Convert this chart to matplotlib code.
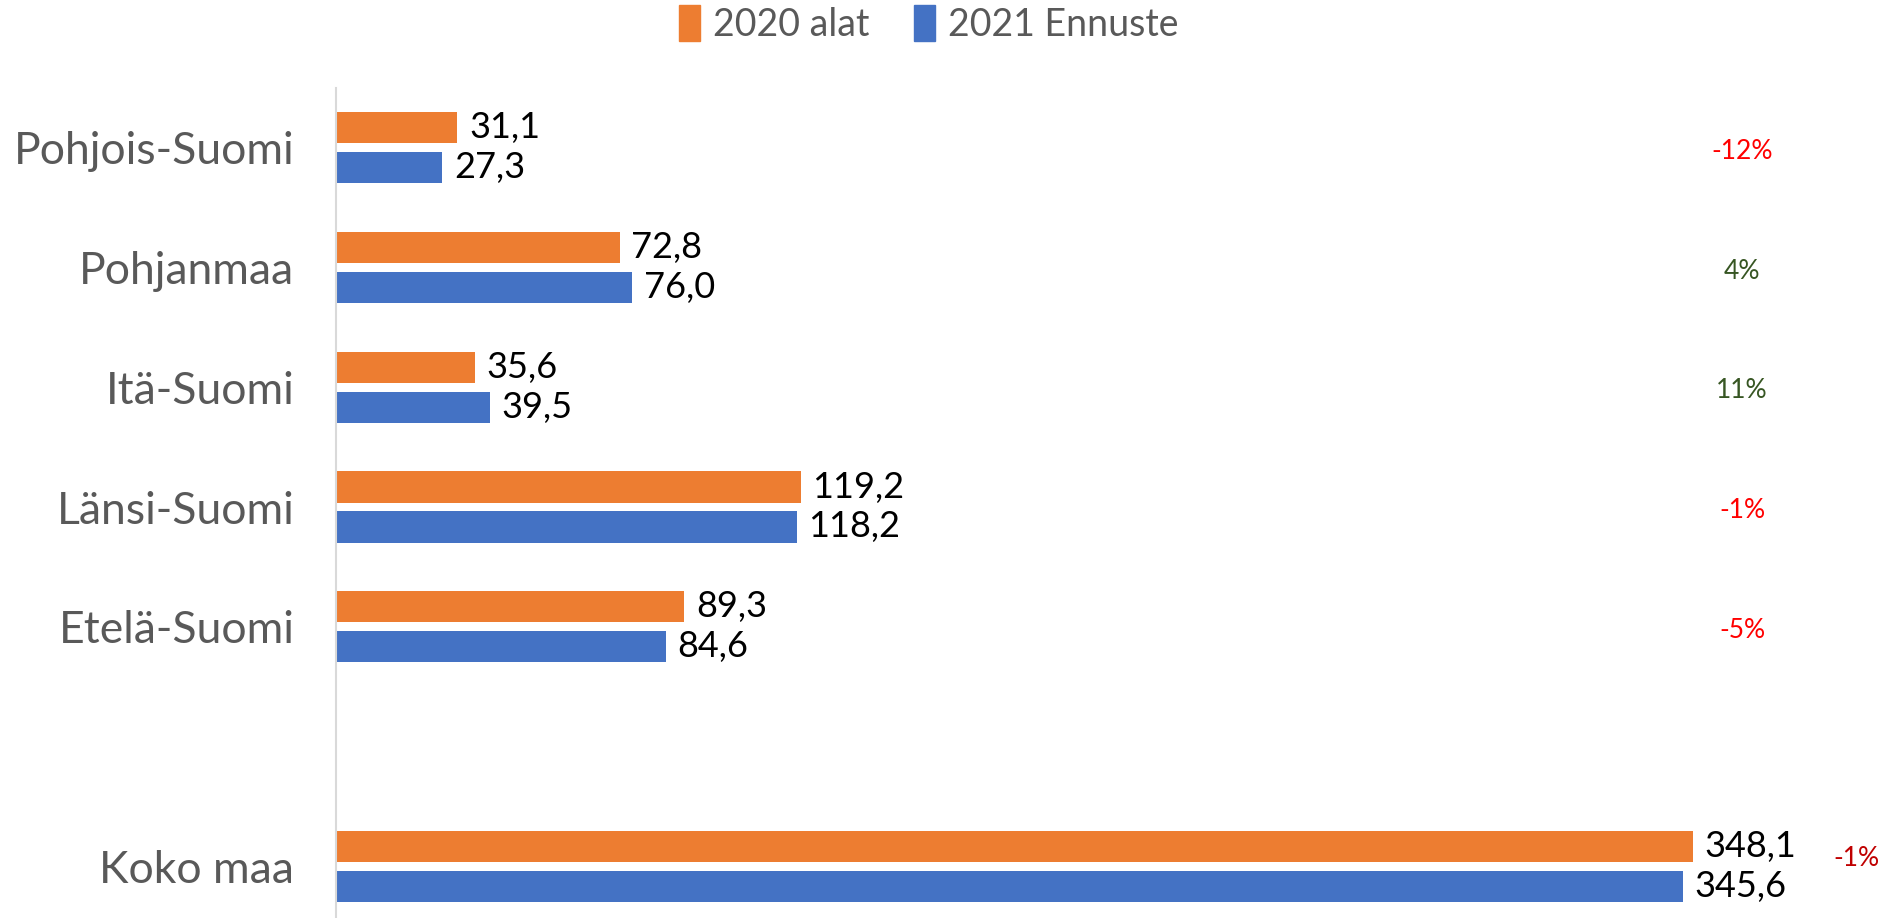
import matplotlib
matplotlib.use("Agg")
import matplotlib.pyplot as plt
from matplotlib.patches import Patch

categories = ["Pohjois-Suomi", "Pohjanmaa", "Itä-Suomi", "Länsi-Suomi", "Etelä-Suomi", "", "Koko maa"]
values_2020 = [31.1, 72.8, 35.6, 119.2, 89.3, None, 348.1]
values_2021 = [27.3, 76.0, 39.5, 118.2, 84.6, None, 345.6]
labels_2020 = ["31,1", "72,8", "35,6", "119,2", "89,3", "", "348,1"]
labels_2021 = ["27,3", "76,0", "39,5", "118,2", "84,6", "", "345,6"]
changes = ["-12%", "4%", "11%", "-1%", "-5%", "", "-1%"]
change_colors = ["#FF0000", "#375623", "#375623", "#FF0000", "#FF0000", None, "#C00000"]
change_x = [360.7, 360.7, 360.7, 360.7, 360.7, None, 390.0]

series_names = ["2020 alat", "2021 Ennuste"]
c2020 = "#ED7D31"
c2021 = "#4472C4"

plt.rcParams['font.family'] = ['Lato', 'DejaVu Sans']

fig = plt.figure(figsize=(18.93, 9.18), dpi=100)
ax = fig.add_axes([336/1893, -8/918, 1 - 336/1893, 838/918])

h = 0.26
off = 0.167
for i, cat in enumerate(categories):
    if values_2020[i] is None:
        continue
    ax.barh(i - off, values_2020[i], height=h, color=c2020)
    ax.barh(i + off, values_2021[i], height=h, color=c2021)
    ax.text(values_2020[i] + 3.0, i - off, labels_2020[i], va='center', ha='left', fontsize=26, color='black')
    ax.text(values_2021[i] + 3.0, i + off, labels_2021[i], va='center', ha='left', fontsize=26, color='black')
    ycoord = i + 0.03 if i != 6 else i - 0.06
    ax.text(change_x[i], ycoord, changes[i], va='center', ha='center', fontsize=19, color=change_colors[i])

ax.set_ylim(6.5, -0.5)
ax.set_xlim(0, (1893 - 336) / 3.898)
ax.set_yticks(range(len(categories)))
ax.set_yticklabels(categories, fontsize=32, color='#595959')
ax.tick_params(axis='y', length=0, pad=30)
ax.set_xticks([])
for s in ['top', 'right', 'bottom']:
    ax.spines[s].set_visible(False)
ax.spines['left'].set_color('#D9D9D9')
ax.spines['left'].set_linewidth(1.5)

handles = [Patch(color=c2020, label=series_names[0]), Patch(color=c2021, label=series_names[1])]
leg = fig.legend(handles=handles, loc='center', bbox_to_anchor=(929/1893, 1 - 24/918), ncol=2, frameon=False,
                 fontsize=27, handlelength=0.55, handleheight=1.1, handletextpad=0.35, columnspacing=1.2,
                 borderaxespad=0, borderpad=0)
for t in leg.get_texts():
    t.set_color('#595959')

fig.savefig("out.png", dpi=100)
